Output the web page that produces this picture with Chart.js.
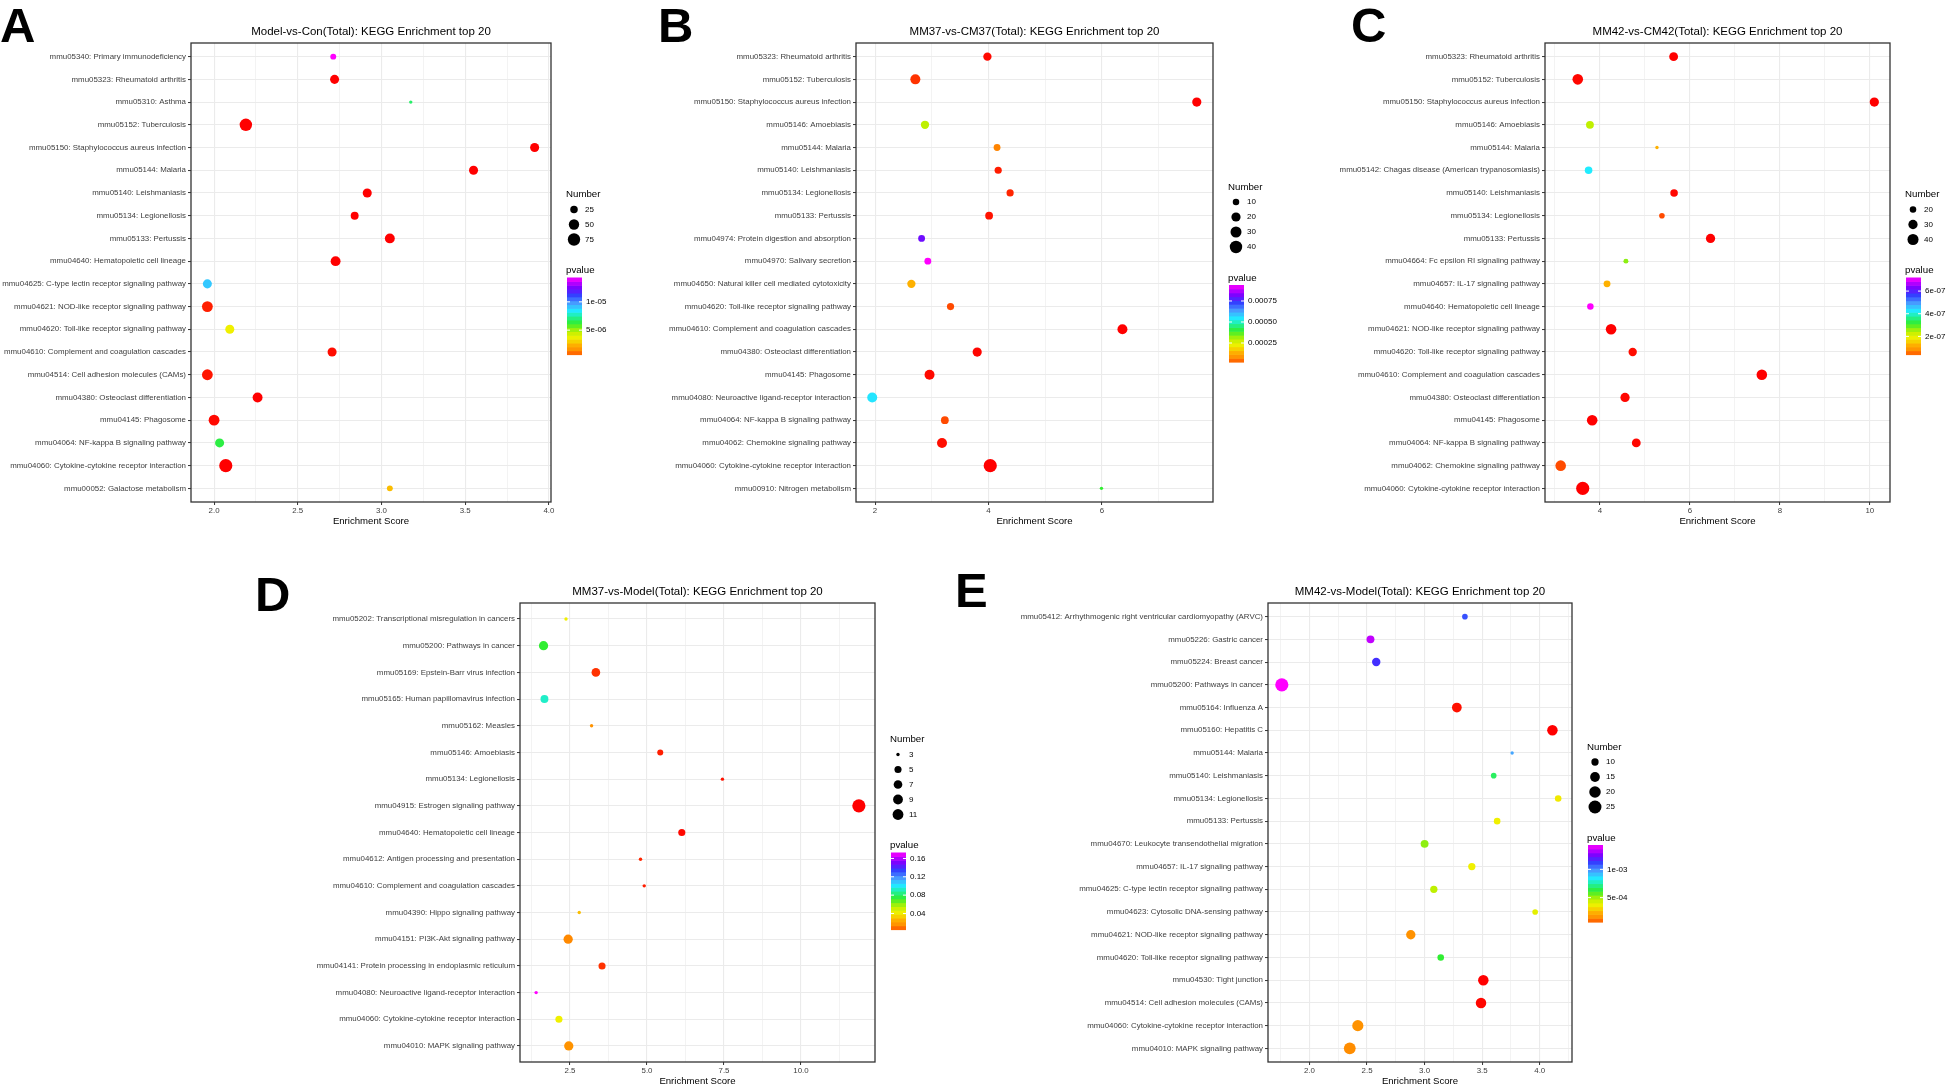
<!DOCTYPE html>
<html>
<head>
<meta charset="utf-8">
<title>KEGG Enrichment top 20</title>
<script src="https://cdn.jsdelivr.net/npm/chart.js@4.4.1/dist/chart.umd.min.js"></script>
<style>
  html, body { margin: 0; padding: 0; background: #fff; overflow: hidden; }
  #page { position: relative; width: 1952px; height: 1084px; overflow: hidden; background: #fff; }
  #page canvas { position: absolute; left: 0; top: 0; }
  .tag { position: absolute; font-family: "Liberation Sans", Arial, sans-serif; font-weight: bold;
         font-size: 49px; line-height: 1; color: #000; }
</style>
</head>
<body>
<div id="page">
  <canvas id="chartA" width="1952" height="1100"></canvas>
  <canvas id="chartB" width="1952" height="1100"></canvas>
  <canvas id="chartC" width="1952" height="1100"></canvas>
  <canvas id="chartD" width="1952" height="1100"></canvas>
  <canvas id="chartE" width="1952" height="1100"></canvas>
  <div class="tag" style="left:0px;top:1px">A</div>
  <div class="tag" style="left:658px;top:1px">B</div>
  <div class="tag" style="left:1351px;top:1px">C</div>
  <div class="tag" style="left:255px;top:570px">D</div>
  <div class="tag" style="left:955px;top:566px">E</div>
</div>
<script>
// ---- Panel A: Model-vs-Con ----
const termsA = [
  'mmu05340: Primary immunodeficiency', 'mmu05323: Rheumatoid arthritis', 'mmu05310: Asthma',
  'mmu05152: Tuberculosis', 'mmu05150: Staphylococcus aureus infection', 'mmu05144: Malaria',
  'mmu05140: Leishmaniasis', 'mmu05134: Legionellosis', 'mmu05133: Pertussis',
  'mmu04640: Hematopoietic cell lineage', 'mmu04625: C-type lectin receptor signaling pathway',
  'mmu04621: NOD-like receptor signaling pathway', 'mmu04620: Toll-like receptor signaling pathway',
  'mmu04610: Complement and coagulation cascades', 'mmu04514: Cell adhesion molecules (CAMs)',
  'mmu04380: Osteoclast differentiation', 'mmu04145: Phagosome', 'mmu04064: NF-kappa B signaling pathway',
  'mmu04060: Cytokine-cytokine receptor interaction', 'mmu00052: Galactose metabolism'
];
const scoreA = [2.712, 2.72, 3.175, 2.19, 3.915, 3.55, 2.915, 2.84, 3.05, 2.726, 1.96, 1.96, 2.094, 2.705, 1.96, 2.26, 2.0, 2.033, 2.07, 3.05];
const countA = [17, 37, 12, 76, 37, 37, 37, 28, 45, 45, 37, 55, 37, 37, 55, 45, 55, 37, 87, 17];
const pvalA = [1.43e-5, 7.0e-7, 6.9e-6, 7.0e-7, 7.0e-7, 7.0e-7, 7.0e-7, 7.0e-7, 7.0e-7, 7.0e-7,
               9.1e-6, 8.0e-7, 3.7e-6, 7.4e-7, 7.7e-7, 7.0e-7, 7.3e-7, 6.5e-6, 7.0e-7, 2.7e-6];
const sizeBreaksA = [25, 50, 75];
const pBreaksA = [5e-6, 1e-5];
const pLabelsA = ['5e-06', '1e-05'];

// ---- Panel B: MM37-vs-CM37 ----
const termsB = [
  'mmu05323: Rheumatoid arthritis', 'mmu05152: Tuberculosis', 'mmu05150: Staphylococcus aureus infection',
  'mmu05146: Amoebiasis', 'mmu05144: Malaria', 'mmu05140: Leishmaniasis', 'mmu05134: Legionellosis',
  'mmu05133: Pertussis', 'mmu04974: Protein digestion and absorption', 'mmu04970: Salivary secretion',
  'mmu04650: Natural killer cell mediated cytotoxicity', 'mmu04620: Toll-like receptor signaling pathway',
  'mmu04610: Complement and coagulation cascades', 'mmu04380: Osteoclast differentiation',
  'mmu04145: Phagosome', 'mmu04080: Neuroactive ligand-receptor interaction',
  'mmu04064: NF-kappa B signaling pathway', 'mmu04062: Chemokine signaling pathway',
  'mmu04060: Cytokine-cytokine receptor interaction', 'mmu00910: Nitrogen metabolism'
];
const scoreB = [3.98, 2.71, 7.67, 2.88, 4.15, 4.17, 4.38, 4.01, 2.82, 2.93, 2.64, 3.33, 6.36, 3.80, 2.96, 1.95, 3.23, 3.18, 4.03, 5.99];
const countB = [16, 24, 20, 16, 11, 12, 12, 14, 11, 11, 16, 12, 24, 20, 24, 24, 14, 24, 46, 6];
const pvalB = [2.6e-5, 3.5e-5, 2.4e-5, 3.0e-4, 6.1e-5, 3.0e-5, 3.2e-5, 2.8e-5, 8.1e-4, 9.4e-4,
               1.43e-4, 4.0e-5, 2.4e-5, 2.5e-5, 2.6e-5, 5.55e-4, 4.0e-5, 2.7e-5, 2.4e-5, 4.0e-4];
const sizeBreaksB = [10, 20, 30, 40];
const pBreaksB = [0.00025, 0.0005, 0.00075];
const pLabelsB = ['0.00025', '0.00050', '0.00075'];

// ---- Panel C: MM42-vs-CM42 ----
const termsC = [
  'mmu05323: Rheumatoid arthritis', 'mmu05152: Tuberculosis', 'mmu05150: Staphylococcus aureus infection',
  'mmu05146: Amoebiasis', 'mmu05144: Malaria', 'mmu05142: Chagas disease (American trypanosomiasis)',
  'mmu05140: Leishmaniasis', 'mmu05134: Legionellosis', 'mmu05133: Pertussis',
  'mmu04664: Fc epsilon RI signaling pathway', 'mmu04657: IL-17 signaling pathway',
  'mmu04640: Hematopoietic cell lineage', 'mmu04621: NOD-like receptor signaling pathway',
  'mmu04620: Toll-like receptor signaling pathway', 'mmu04610: Complement and coagulation cascades',
  'mmu04380: Osteoclast differentiation', 'mmu04145: Phagosome', 'mmu04064: NF-kappa B signaling pathway',
  'mmu04062: Chemokine signaling pathway', 'mmu04060: Cytokine-cytokine receptor interaction'
];
const scoreC = [5.64, 3.51, 10.10, 3.78, 5.27, 3.75, 5.65, 5.38, 6.46, 4.58, 4.16, 3.79, 4.25, 4.73, 7.60, 4.56, 3.83, 4.81, 3.13, 3.62];
const countC = [28, 37, 30, 24, 16, 23, 23, 18, 30, 17, 21, 20, 37, 26, 37, 30, 37, 28, 37, 55];
const pvalC = [4.0e-8, 4.1e-8, 4.0e-8, 2.44e-7, 1.28e-7, 4.28e-7, 4.1e-8, 5.2e-8, 4.0e-8, 2.71e-7,
               1.28e-7, 7.2e-7, 4.0e-8, 4.2e-8, 4.0e-8, 4.1e-8, 4.0e-8, 4.1e-8, 5.2e-8, 4.0e-8];
const sizeBreaksC = [20, 30, 40];
const pBreaksC = [2e-7, 4e-7, 6e-7];
const pLabelsC = ['2e-07', '4e-07', '6e-07'];

// ---- Panel D: MM37-vs-Model ----
const termsD = [
  'mmu05202: Transcriptional misregulation in cancers', 'mmu05200: Pathways in cancer',
  'mmu05169: Epstein-Barr virus infection', 'mmu05165: Human papillomavirus infection',
  'mmu05162: Measles', 'mmu05146: Amoebiasis', 'mmu05134: Legionellosis',
  'mmu04915: Estrogen signaling pathway', 'mmu04640: Hematopoietic cell lineage',
  'mmu04612: Antigen processing and presentation', 'mmu04610: Complement and coagulation cascades',
  'mmu04390: Hippo signaling pathway', 'mmu04151: PI3K-Akt signaling pathway',
  'mmu04141: Protein processing in endoplasmic reticulum', 'mmu04080: Neuroactive ligand-receptor interaction',
  'mmu04060: Cytokine-cytokine receptor interaction', 'mmu04010: MAPK signaling pathway'
];
const scoreD = [2.37, 1.64, 3.34, 1.67, 3.2, 5.43, 7.45, 11.88, 6.13, 4.79, 4.91, 2.80, 2.44, 3.54, 1.40, 2.14, 2.46];
const countD = [3, 8, 7, 6, 3, 4, 3, 17, 5, 3, 3, 3, 8, 5, 3, 5, 8];
const pvalD = [0.042, 0.074, 0.007, 0.094, 0.017, 0.0062, 0.0057, 0.005, 0.0053, 0.0065,
               0.0062, 0.030, 0.0134, 0.007, 0.173, 0.042, 0.017];
const sizeBreaksD = [3, 5, 7, 9, 11];
const pBreaksD = [0.04, 0.08, 0.12, 0.16];
const pLabelsD = ['0.04', '0.08', '0.12', '0.16'];

// ---- Panel E: MM42-vs-Model ----
const termsE = [
  'mmu05412: Arrhythmogenic right ventricular cardiomyopathy (ARVC)', 'mmu05226: Gastric cancer',
  'mmu05224: Breast cancer', 'mmu05200: Pathways in cancer', 'mmu05164: Influenza A',
  'mmu05160: Hepatitis C', 'mmu05144: Malaria', 'mmu05140: Leishmaniasis', 'mmu05134: Legionellosis',
  'mmu05133: Pertussis', 'mmu04670: Leukocyte transendothelial migration', 'mmu04657: IL-17 signaling pathway',
  'mmu04625: C-type lectin receptor signaling pathway', 'mmu04623: Cytosolic DNA-sensing pathway',
  'mmu04621: NOD-like receptor signaling pathway', 'mmu04620: Toll-like receptor signaling pathway',
  'mmu04530: Tight junction', 'mmu04514: Cell adhesion molecules (CAMs)',
  'mmu04060: Cytokine-cytokine receptor interaction', 'mmu04010: MAPK signaling pathway'
];
const scoreE = [3.35, 2.53, 2.58, 1.76, 3.28, 4.11, 3.76, 3.60, 4.16, 3.63, 3.0, 3.41, 3.08, 3.96, 2.88, 3.14, 3.51, 3.49, 2.42, 2.35];
const countE = [8, 11, 12, 26, 15, 17, 7, 8, 9, 9, 11, 10, 10, 8, 14, 9, 17, 17, 19, 21];
const pvalE = [1.10e-3, 1.35e-3, 1.16e-3, 1.43e-3, 7.5e-5, 7.0e-5, 9.7e-4, 6.8e-4, 3.56e-4, 3.7e-4,
               5.3e-4, 3.7e-4, 4.8e-4, 3.96e-4, 1.65e-4, 6.3e-4, 7.0e-5, 7.2e-5, 1.65e-4, 1.5e-4];
const sizeBreaksE = [10, 15, 20, 25];
const pBreaksE = [5e-4, 1e-3];
const pLabelsE = ['5e-04', '1e-03'];

// ---- shared look ----
const FONT = '"Liberation Sans", Arial, sans-serif';
Chart.defaults.font.family = FONT;
const R_MIN = 1.7, R_MAX = 6.6;   // point radius range in px
const RAMP = [
  [0.00, [255, 0, 0]], [0.03, [255, 127, 0]], [0.12, [255, 170, 0]], [0.22, [240, 240, 0]],
  [0.30, [192, 240, 0]], [0.41, [48, 238, 48]], [0.50, [32, 240, 160]], [0.57, [32, 236, 255]],
  [0.67, [72, 160, 255]], [0.78, [50, 60, 255]], [0.88, [128, 0, 255]], [1.00, [255, 0, 255]]
];

function extent(arr) { return [Math.min(...arr), Math.max(...arr)]; }

function rampColor(t) {
  t = Math.max(0, Math.min(1, t));
  for (let i = 1; i < RAMP.length; i++) {
    if (t <= RAMP[i][0]) {
      const [t0, c0] = RAMP[i - 1], [t1, c1] = RAMP[i];
      const f = (t - t0) / (t1 - t0);
      const c = c0.map((v, k) => Math.round(v + (c1[k] - v) * f));
      return 'rgb(' + c.join(',') + ')';
    }
  }
  return 'rgb(255,0,255)';
}

function sizeOf(n, lo, hi) {
  const f = Math.max(0, (n - lo) / (hi - lo));
  return R_MIN + (R_MAX - R_MIN) * Math.sqrt(f);
}

// panel border + Number / pvalue legends
function legendPlugin(p) {
  return {
    id: 'legend_' + p.id,
    afterDraw(chart) {
      const ctx = chart.ctx;
      const a = chart.chartArea;
      const [cLo, cHi] = extent(p.counts);
      const [pLo, pHi] = extent(p.pvals);
      ctx.save();
      ctx.strokeStyle = '#333333';
      ctx.lineWidth = 1.3;
      ctx.strokeRect(a.left, a.top, a.right - a.left, a.bottom - a.top);

      const x0 = a.right + 15;
      let y = (a.top + a.bottom) / 2 - 85.5 - 7.5 * (p.sizeBreaks.length - 4);
      ctx.textAlign = 'left';
      ctx.textBaseline = 'middle';
      ctx.fillStyle = '#000';
      ctx.font = '9.7px ' + FONT;
      ctx.fillText('Number', x0, y);
      ctx.font = '8px ' + FONT;
      p.sizeBreaks.forEach(n => {
        y += 15;
        ctx.beginPath();
        ctx.arc(x0 + 8, y, sizeOf(n, cLo, cHi), 0, Math.PI * 2);
        ctx.fill();
        ctx.fillText(String(n), x0 + 19, y);
      });

      y += 31;
      ctx.font = '9.7px ' + FONT;
      ctx.fillText('pvalue', x0, y);
      const bx = x0 + 1, bw = 15, bh = 77, by = y + 7;
      const nbin = 20;
      for (let i = 0; i < nbin; i++) {
        ctx.fillStyle = rampColor((i + 0.5) / nbin);
        ctx.fillRect(bx, by + bh - (i + 1) * bh / nbin, bw, bh / nbin + 0.6);
      }
      ctx.font = '8px ' + FONT;
      p.pBreaks.forEach((v, i) => {
        const yy = by + bh - (v - pLo) / (pHi - pLo) * bh;
        ctx.strokeStyle = '#fff';
        ctx.lineWidth = 1;
        ctx.beginPath();
        ctx.moveTo(bx, yy); ctx.lineTo(bx + 3, yy);
        ctx.moveTo(bx + bw - 3, yy); ctx.lineTo(bx + bw, yy);
        ctx.stroke();
        ctx.fillStyle = '#000';
        ctx.fillText(p.pLabels[i], bx + bw + 4, yy);
      });
      ctx.restore();
    }
  };
}

function isMajor(v, step) { return Math.abs(v / step - Math.round(v / step)) < 1e-6; }

function makePanel(p) {
  const n = p.terms.length;
  const [cLo, cHi] = extent(p.counts);
  const [pLo, pHi] = extent(p.pvals);
  const [sLo, sHi] = extent(p.scores);
  const expand = (sHi - sLo) * 0.05;
  const points = p.scores.map((s, i) => ({ x: s, y: i, r: sizeOf(p.counts[i], cLo, cHi) }));
  const colors = p.pvals.map(v => rampColor((v - pLo) / (pHi - pLo)));
  const tickFont = { family: FONT, size: 7.9 };

  new Chart(document.getElementById(p.id), {
    type: 'bubble',
    data: { datasets: [{ data: points, backgroundColor: colors, borderWidth: 0 }] },
    options: {
      responsive: false,
      animation: false,
      events: [],
      layout: { padding: { left: 0, top: p.box.top - 17.8, right: 1952 - p.box.right, bottom: 1100 - 30 - p.box.bottom } },
      plugins: {
        legend: { display: false },
        tooltip: { enabled: false },
        title: {
          display: true, text: p.title, fullSize: false, color: '#000',
          font: { family: FONT, size: 11.5, weight: 'normal' }, padding: { top: 0, bottom: 4 }
        }
      },
      scales: {
        x: {
          type: 'linear', bounds: 'data', min: sLo - expand, max: sHi + expand,
          afterBuildTicks(scale) {
            const ticks = [];
            const k0 = Math.ceil(scale.min / p.minor - 1e-9), k1 = Math.floor(scale.max / p.minor + 1e-9);
            for (let k = k0; k <= k1; k++) ticks.push({ value: +(k * p.minor).toFixed(6) });
            scale.ticks = ticks;
          },
          afterFit(scale) { scale.height = 30; },
          ticks: {
            autoSkip: false, maxRotation: 0, padding: 1, color: '#3d3d3d', font: tickFont,
            callback: v => isMajor(v, p.major) ? v.toFixed(p.digits) : ''
          },
          grid: {
            color: '#ebebeb',
            lineWidth: c => isMajor(c.tick.value, p.major) ? 1.1 : 0.6,
            tickColor: c => isMajor(c.tick.value, p.major) ? '#333333' : 'rgba(0,0,0,0)',
            tickLength: 3, tickWidth: 1
          },
          border: { display: false },
          title: {
            display: true, text: 'Enrichment Score', color: '#000',
            font: { family: FONT, size: 9.6 }, padding: { top: 0, bottom: 5 }
          }
        },
        y: {
          type: 'linear', reverse: true, min: -0.6, max: n - 0.4,
          afterBuildTicks(scale) { scale.ticks = p.terms.map((_, i) => ({ value: i })); },
          afterFit(scale) { scale.width = p.box.left; },
          ticks: { autoSkip: false, padding: 2, color: '#3d3d3d', font: tickFont, callback: v => p.terms[v] },
          grid: { color: '#ebebeb', lineWidth: 1.1, tickColor: '#333333', tickLength: 3, tickWidth: 1 },
          border: { display: false }
        }
      }
    },
    plugins: [legendPlugin(p)]
  });
}

makePanel({ id: 'chartA', title: 'Model-vs-Con(Total): KEGG Enrichment top 20',
  terms: termsA, scores: scoreA, counts: countA, pvals: pvalA,
  sizeBreaks: sizeBreaksA, pBreaks: pBreaksA, pLabels: pLabelsA,
  minor: 0.25, major: 0.5, digits: 1, box: { left: 191, top: 43, right: 551, bottom: 502 } });

makePanel({ id: 'chartB', title: 'MM37-vs-CM37(Total): KEGG Enrichment top 20',
  terms: termsB, scores: scoreB, counts: countB, pvals: pvalB,
  sizeBreaks: sizeBreaksB, pBreaks: pBreaksB, pLabels: pLabelsB,
  minor: 1, major: 2, digits: 0, box: { left: 856, top: 43, right: 1213, bottom: 502 } });

makePanel({ id: 'chartC', title: 'MM42-vs-CM42(Total): KEGG Enrichment top 20',
  terms: termsC, scores: scoreC, counts: countC, pvals: pvalC,
  sizeBreaks: sizeBreaksC, pBreaks: pBreaksC, pLabels: pLabelsC,
  minor: 1, major: 2, digits: 0, box: { left: 1545, top: 43, right: 1890, bottom: 502 } });

makePanel({ id: 'chartD', title: 'MM37-vs-Model(Total): KEGG Enrichment top 20',
  terms: termsD, scores: scoreD, counts: countD, pvals: pvalD,
  sizeBreaks: sizeBreaksD, pBreaks: pBreaksD, pLabels: pLabelsD,
  minor: 1.25, major: 2.5, digits: 1, box: { left: 520, top: 603, right: 875, bottom: 1062 } });

makePanel({ id: 'chartE', title: 'MM42-vs-Model(Total): KEGG Enrichment top 20',
  terms: termsE, scores: scoreE, counts: countE, pvals: pvalE,
  sizeBreaks: sizeBreaksE, pBreaks: pBreaksE, pLabels: pLabelsE,
  minor: 0.25, major: 0.5, digits: 1, box: { left: 1268, top: 603, right: 1572, bottom: 1062 } });
</script>
</body>
</html>
